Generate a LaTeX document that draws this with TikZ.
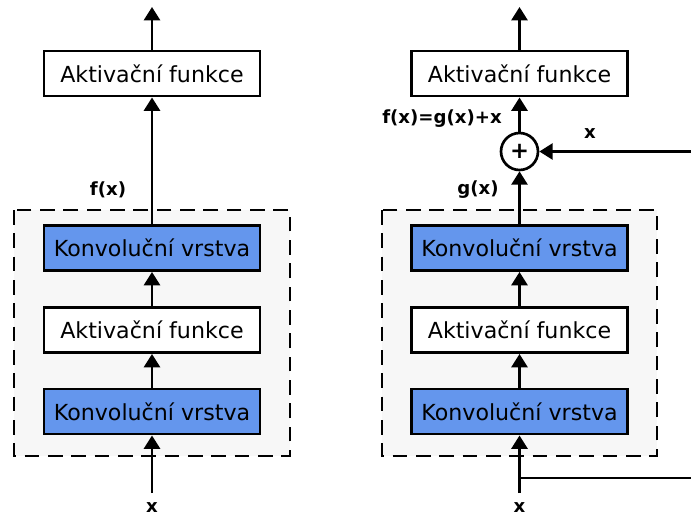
\documentclass[tikz,border=0pt]{standalone}
\usepackage{fontspec}
\setmainfont{DejaVu Sans}
\usetikzlibrary{arrows.meta}
\definecolor{convblue}{RGB}{100,150,237}
\definecolor{blockbg}{RGB}{247,247,247}
\tikzset{
  layerbox/.style={draw=black, line width=2.2pt, minimum width=216*0.75pt, minimum height=45*0.75pt,
    inner sep=0pt, font=\fontsize{16.6}{18}\selectfont},
  convbox/.style={layerbox, fill=convblue},
  actbox/.style={layerbox, fill=white},
  lbl/.style={font=\fontsize{13.6}{15}\selectfont\bfseries, inner sep=0pt},
  flow/.style={line width=2pt, -{Triangle[length=10pt, width=12pt]}},
  plain/.style={line width=2pt},
  blockframe/.style={draw=black, line width=2.1pt, dash pattern=on 11pt off 6.5pt, fill=blockbg},
  sumnode/.style={circle, draw=black, line width=2pt, fill=white, minimum size=37*0.75pt, inner sep=0pt,
    font=\fontsize{17}{18}\selectfont\bfseries}
}
\begin{document}
\begin{tikzpicture}[x=0.75pt, y=-0.75pt]
\useasboundingbox (0,0) rectangle (691,518);

% ---- plain stack ----
\draw[blockframe] (14,210) rectangle (290,456);
\node[actbox]  (aL)  at (152,73.5) {Aktivační funkce};
\node[convbox] (c1L) at (152,248)  {Konvoluční vrstva};
\node[actbox]  (a1L) at (152,330)  {Aktivační funkce};
\node[convbox] (c0L) at (152,411.5){Konvoluční vrstva};
\node[lbl] (xL) at (152,508) {x};
\node[lbl] at (108,190) {f(x)};
\coordinate (outL) at (152,7);
\coordinate (inL) at (152,493);

\draw[flow] (inL) -- (c0L.south);
\draw[flow] (c0L.north) -- (a1L.south);
\draw[flow] (a1L.north) -- (c1L.south);
\draw[flow] (c1L.north) -- (aL.south);
\draw[flow] (aL.north) -- (outL);

% ---- residual stack ----
\draw[blockframe] (382,210) rectangle (657,456);
\node[actbox]  (aR)  at (519.5,73.5) {Aktivační funkce};
\node[convbox] (c1R) at (519.5,248)  {Konvoluční vrstva};
\node[actbox]  (a1R) at (519.5,330)  {Aktivační funkce};
\node[convbox] (c0R) at (519.5,411.5){Konvoluční vrstva};
\node[sumnode] (sum) at (519.5,151.5) {+};
\node[lbl] (xR) at (519.5,508) {x};
\node[lbl] at (442,119) {f(x)=g(x)+x};
\node[lbl] at (478,190) {g(x)};
\node[lbl] at (590,134) {x};
\coordinate (outR) at (519.5,7);
\coordinate (inR) at (519.5,493);
\coordinate (split) at (519.5,478);
\coordinate (skipB) at (691,478);
\coordinate (skipT) at (691,151.5);

\draw[flow] (inR) -- (c0R.south);
\draw[flow] (c0R.north) -- (a1R.south);
\draw[flow] (a1R.north) -- (c1R.south);
\draw[flow] (c1R.north) -- (sum.south);
\draw[flow] (sum.north) -- (aR.south);
\draw[flow] (aR.north) -- (outR);
\draw[plain] (split) -- (skipB);
\draw[flow] (skipT) -- (sum.east);
\end{tikzpicture}
\end{document}
